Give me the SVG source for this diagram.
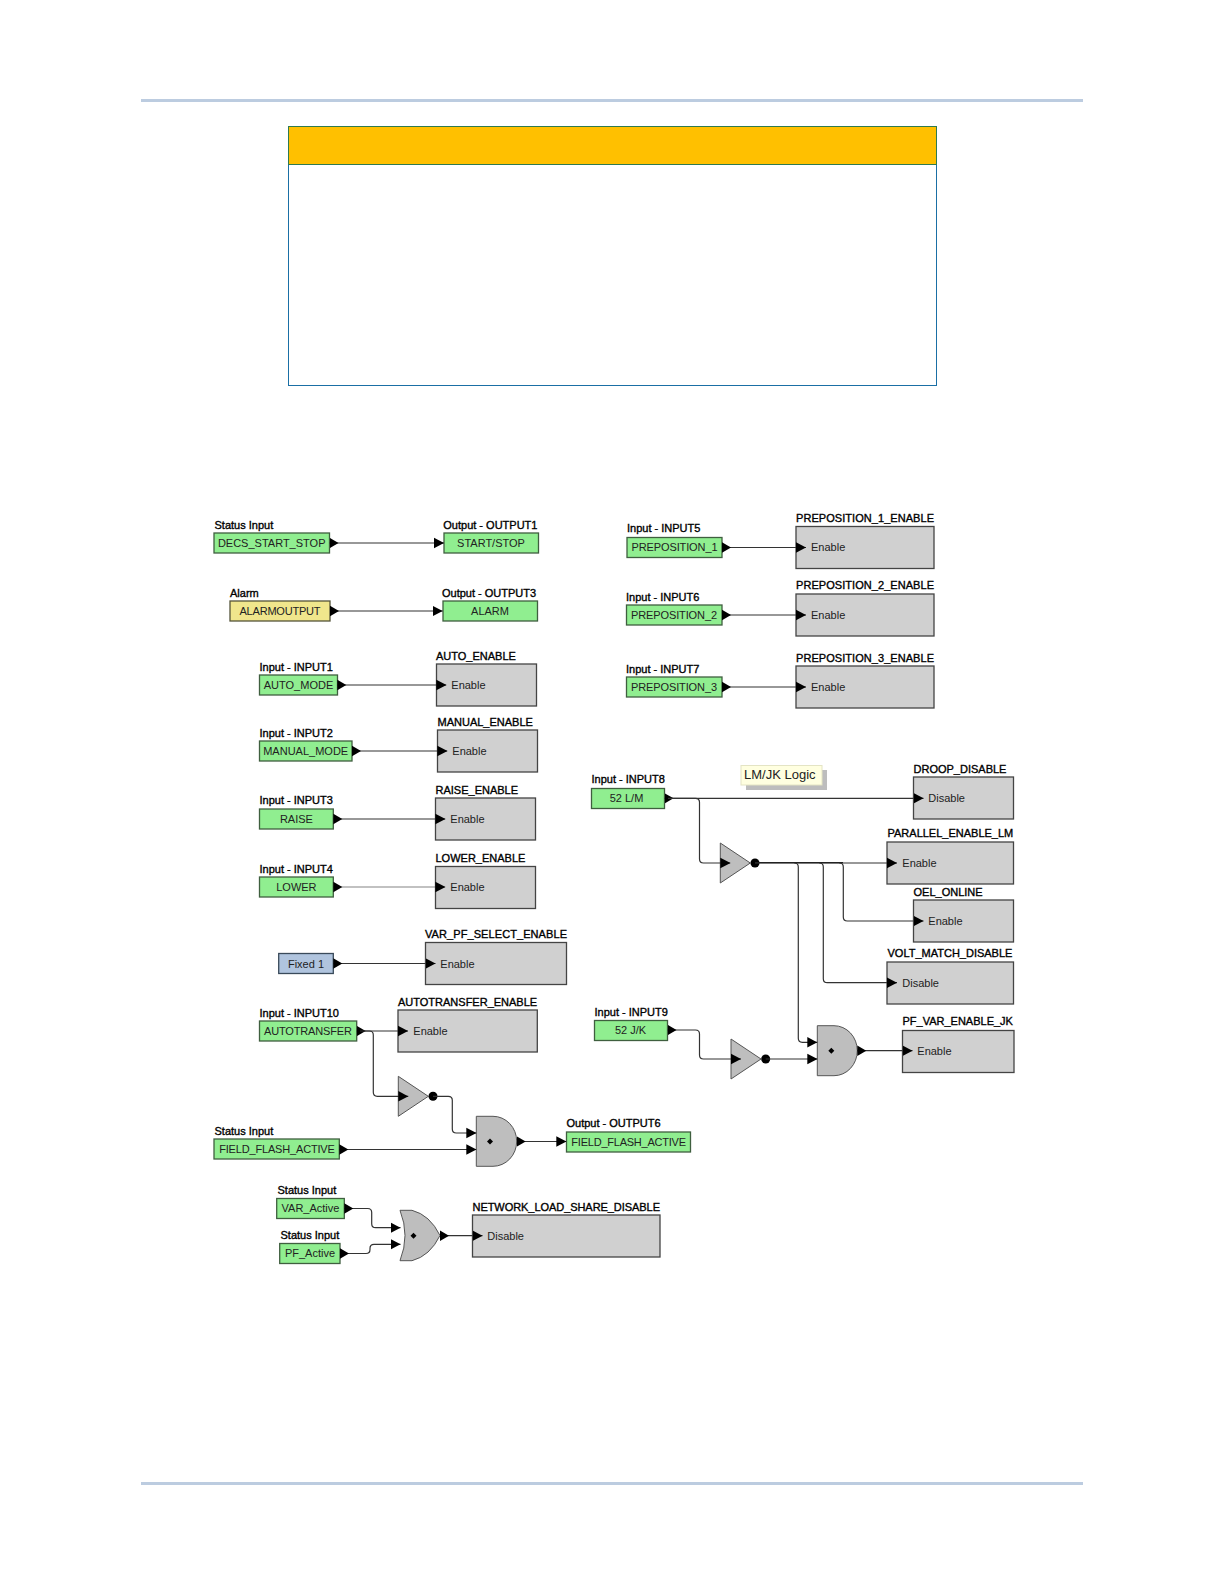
<svg xmlns="http://www.w3.org/2000/svg" width="1224" height="1584" viewBox="0 0 1224 1584">
<defs>
<style>
text{font-family:"Liberation Sans",Arial,sans-serif;font-size:11px;fill:#222}
.l{fill:#000;stroke:#000;stroke-width:.35px}
.m{text-anchor:middle}
.g{fill:#90EE90;stroke:#3F5F3F;stroke-width:1.3}
.y{fill:#F0E68C;stroke:#55553A;stroke-width:1.3}
.b{fill:#B0C4DE;stroke:#3A4A5A;stroke-width:1.3}
.x{fill:#D0D0D0;stroke:#444;stroke-width:1.3}
.t{fill:#BEBEBE;stroke:#555;stroke-width:1}
.w{fill:none;stroke:#333;stroke-width:1.2;marker-start:url(#s);marker-end:url(#e)}
.n{fill:none;stroke:#333;stroke-width:1.2;marker-end:url(#e)}
.p{fill:none;stroke:#222;stroke-width:1.2}
</style>
<marker id="e" markerUnits="userSpaceOnUse" markerWidth="10" markerHeight="12" refX="10" refY="6" orient="auto"><path d="M0,0.8L10,6L0,11.2Z" fill="#000"/></marker>
<marker id="s" markerUnits="userSpaceOnUse" markerWidth="10" markerHeight="12" refX="0" refY="6" orient="auto"><path d="M0,0.8L9,6L0,11.2Z" fill="#000"/></marker>
</defs>
<rect id="rule-top" x="141" y="99" width="942" height="3" fill="#BCCCE0"/>
<rect id="rule-bottom" x="141" y="1482" width="942" height="3" fill="#BCCCE0"/>
<g id="panel">
<rect x="288.5" y="126.5" width="648" height="259" fill="#fff" stroke="#1A6FA5" stroke-width="1"/>
<rect x="288.5" y="126.5" width="648" height="38" fill="#FFC000" stroke="#2F7A50" stroke-width="1"/>
</g>
<g id="n-decs"><text class="l" x="214.5" y="529">Status Input</text><rect class="g" x="214" y="533" width="115.5" height="20"/><text class="m" x="271.7" y="547">DECS_START_STOP</text></g>
<g id="n-output1"><text class="l" x="443.3" y="529">Output - OUTPUT1</text><rect class="g" x="444" y="533" width="94.5" height="20"/><text class="m" x="491" y="547">START/STOP</text></g>
<g id="n-alarm"><text class="l" x="230" y="597">Alarm</text><rect class="y" x="230" y="601" width="100" height="20"/><text class="m" x="280" y="615" textLength="81">ALARMOUTPUT</text></g>
<g id="n-output3"><text class="l" x="442" y="597">Output - OUTPUT3</text><rect class="g" x="443" y="601" width="94.5" height="20"/><text class="m" x="490" y="615">ALARM</text></g>
<g id="n-input1"><text class="l" x="259.5" y="670.7">Input - INPUT1</text><rect class="g" x="259.5" y="675" width="78" height="20"/><text class="m" x="298.5" y="689">AUTO_MODE</text></g>
<g id="n-auto-enable"><text class="l" x="436" y="660">AUTO_ENABLE</text><rect class="x" x="436.5" y="664" width="100" height="42"/><text x="451.3" y="689">Enable</text></g>
<g id="n-input2"><text class="l" x="259.5" y="736.7">Input - INPUT2</text><rect class="g" x="259.5" y="741" width="92.5" height="20"/><text class="m" x="305.7" y="755">MANUAL_MODE</text></g>
<g id="n-manual-enable"><text class="l" x="437.5" y="726">MANUAL_ENABLE</text><rect class="x" x="437.5" y="730" width="100" height="42"/><text x="452.3" y="755">Enable</text></g>
<g id="n-input3"><text class="l" x="259.5" y="804">Input - INPUT3</text><rect class="g" x="259.5" y="809" width="73.8" height="20"/><text class="m" x="296.4" y="823">RAISE</text></g>
<g id="n-raise-enable"><text class="l" x="435.5" y="793.5">RAISE_ENABLE</text><rect class="x" x="435.5" y="798" width="100" height="42"/><text x="450.3" y="823">Enable</text></g>
<g id="n-input4"><text class="l" x="259.5" y="872.6">Input - INPUT4</text><rect class="g" x="259.5" y="877" width="73.8" height="20"/><text class="m" x="296.4" y="891">LOWER</text></g>
<g id="n-lower-enable"><text class="l" x="435.5" y="862">LOWER_ENABLE</text><rect class="x" x="435.5" y="866.5" width="100" height="42"/><text x="450.3" y="891">Enable</text></g>
<g id="n-fixed"><rect class="b" x="278.7" y="953.5" width="54.6" height="20"/><text class="m" x="306" y="967.5">Fixed 1</text></g>
<g id="n-var-pf"><text class="l" x="425" y="938" textLength="142">VAR_PF_SELECT_ENABLE</text><rect class="x" x="425.5" y="942.5" width="141" height="42"/><text x="440.3" y="967.5">Enable</text></g>
<g id="n-input10"><text class="l" x="259.5" y="1017">Input - INPUT10</text><rect class="g" x="259.5" y="1021" width="97.2" height="20"/><text class="m" x="308" y="1035" textLength="88">AUTOTRANSFER</text></g>
<g id="n-autotransfer-enable"><text class="l" x="398" y="1006">AUTOTRANSFER_ENABLE</text><rect class="x" x="398" y="1010" width="139.3" height="42"/><text x="413.3" y="1035">Enable</text></g>
<g id="n-not1"><path class="t" d="M398.3,1076.3V1116.3L428.3,1096.3Z"/><circle cx="433" cy="1096.3" r="4.5" fill="#000"/></g>
<g id="n-and1"><path class="t" d="M476.3,1116.3H493A23.7,25 0 0 1 493,1166.3H476.3Z"/><path d="M490,1138.5l3,3l-3,3l-3,-3Z" fill="#000"/></g>
<g id="n-ff-input"><text class="l" x="214.5" y="1135">Status Input</text><rect class="g" x="214" y="1139" width="125.3" height="20"/><text class="m" x="277" y="1152.7" textLength="115.7">FIELD_FLASH_ACTIVE</text></g>
<g id="n-output6"><text class="l" x="566.5" y="1127">Output - OUTPUT6</text><rect class="g" x="566.5" y="1132" width="124" height="20"/><text class="m" x="628.7" y="1145.5" textLength="114.7">FIELD_FLASH_ACTIVE</text></g>
<g id="n-var-active"><text class="l" x="277.5" y="1194">Status Input</text><rect class="g" x="276.7" y="1198.5" width="67.6" height="20"/><text class="m" x="310.5" y="1211.8">VAR_Active</text></g>
<g id="n-pf-active"><text class="l" x="280.5" y="1239">Status Input</text><rect class="g" x="279.7" y="1243.5" width="60.3" height="20"/><text class="m" x="310" y="1256.8">PF_Active</text></g>
<g id="n-or"><path class="t" d="M400,1210.3H412Q430,1215 440,1235.5Q430,1256 412,1260.7H400Q410,1235.5 400,1210.3Z"/><path d="M413.5,1232.7l3,3l-3,3l-3,-3Z" fill="#000"/></g>
<g id="n-nlsd"><text class="l" x="472.5" y="1211" textLength="187.5">NETWORK_LOAD_SHARE_DISABLE</text><rect class="x" x="472.5" y="1215" width="187.5" height="42"/><text x="487.3" y="1240">Disable</text></g>
<g id="n-input5"><text class="l" x="627" y="532">Input - INPUT5</text><rect class="g" x="627" y="537.5" width="95" height="20"/><text class="m" x="674.5" y="550.8" textLength="86">PREPOSITION_1</text></g>
<g id="n-p1-enable"><text class="l" x="796" y="522" textLength="138">PREPOSITION_1_ENABLE</text><rect class="x" x="796" y="526.5" width="138" height="42"/><text x="811" y="550.8">Enable</text></g>
<g id="n-input6"><text class="l" x="626" y="601">Input - INPUT6</text><rect class="g" x="626.5" y="605" width="95.5" height="20"/><text class="m" x="674" y="619" textLength="86">PREPOSITION_2</text></g>
<g id="n-p2-enable"><text class="l" x="796" y="589" textLength="138">PREPOSITION_2_ENABLE</text><rect class="x" x="796" y="594" width="138" height="42"/><text x="811" y="619">Enable</text></g>
<g id="n-input7"><text class="l" x="626" y="672.6">Input - INPUT7</text><rect class="g" x="626.5" y="677" width="95.5" height="20"/><text class="m" x="674" y="691" textLength="86">PREPOSITION_3</text></g>
<g id="n-p3-enable"><text class="l" x="796" y="661.5" textLength="138">PREPOSITION_3_ENABLE</text><rect class="x" x="796" y="666" width="138" height="42"/><text x="811" y="691">Enable</text></g>
<g id="n-input8"><text class="l" x="591.5" y="783">Input - INPUT8</text><rect class="g" x="591.5" y="788.5" width="73" height="20"/><text class="m" x="626.5" y="802">52 L/M</text></g>
<g id="n-note"><rect x="746" y="770" width="81" height="20" fill="#BDBDBD"/><rect x="741" y="765.5" width="81" height="19.5" fill="#FFFFE0" stroke="#E4E4C4"/><text x="744" y="778.7" style="font-size:13px">LM/JK Logic</text></g>
<g id="n-droop"><text class="l" x="913.5" y="772.5">DROOP_DISABLE</text><rect class="x" x="913.5" y="777" width="100" height="42"/><text x="928.3" y="802">Disable</text></g>
<g id="n-not2"><path class="t" d="M720.3,843V883L750.3,863Z"/><circle cx="755" cy="863" r="4.5" fill="#000"/></g>
<g id="n-parallel"><text class="l" x="887.5" y="836.7">PARALLEL_ENABLE_LM</text><rect class="x" x="887" y="842" width="126.5" height="42"/><text x="902.3" y="867">Enable</text></g>
<g id="n-oel"><text class="l" x="913.5" y="895.7">OEL_ONLINE</text><rect class="x" x="913.5" y="900" width="100" height="42"/><text x="928.3" y="925">Enable</text></g>
<g id="n-volt"><text class="l" x="887.5" y="957.3">VOLT_MATCH_DISABLE</text><rect class="x" x="887" y="962" width="126.5" height="42"/><text x="902.3" y="987">Disable</text></g>
<g id="n-input9"><text class="l" x="594.5" y="1016">Input - INPUT9</text><rect class="g" x="594.5" y="1020.5" width="73" height="20"/><text class="m" x="630.5" y="1034">52 J/K</text></g>
<g id="n-not3"><path class="t" d="M731,1039V1079L761,1059Z"/><circle cx="765.7" cy="1059" r="4.5" fill="#000"/></g>
<g id="n-and2"><path class="t" d="M817.3,1025.7H834A23.3,25 0 0 1 834,1075.7H817.3Z"/><path d="M831.3,1047.7l3,3l-3,3l-3,-3Z" fill="#000"/></g>
<g id="n-pf-var"><text class="l" x="902.5" y="1025.3">PF_VAR_ENABLE_JK</text><rect class="x" x="902.5" y="1030.5" width="111.5" height="42"/><text x="917.3" y="1055">Enable</text></g>
<g id="connectors">
<path class="w" d="M329.5,543H444"/>
<path class="w" d="M330,611H442.7"/>
<path class="w" d="M337.3,685H446.3"/>
<path class="w" d="M352,751H447.3"/>
<path class="w" d="M333.3,819H445.3"/>
<path class="w" d="M333.3,887H445.3" stroke-opacity=".6"/>
<path class="w" d="M333.3,963.5H435.5"/>
<path class="w" d="M356.7,1031H408"/>
<path class="n" d="M360,1031H369.3Q373.3,1031 373.3,1035V1092.3Q373.3,1096.3 377.3,1096.3H408.3"/>
<path class="n" d="M433,1096.3H448.3Q452.3,1096.3 452.3,1100.3V1129Q452.3,1133 456.3,1133H476.3"/>
<path class="w" d="M339.3,1149.5H476.3"/>
<path class="w" d="M516.7,1141.5H566.3"/>
<path class="w" d="M344.3,1208.5H367.7Q371.7,1208.5 371.7,1212.5V1223.7Q371.7,1227.7 375.7,1227.7H400.5"/>
<path class="w" d="M340,1253.5H366Q370,1253.5 370,1249.5V1248.3Q370,1244.3 374,1244.3H400.5"/>
<path class="w" d="M440,1235.7H482.5"/>
<path class="w" d="M722,547.5H806"/>
<path class="w" d="M722,615H806"/>
<path class="w" d="M722,687H806"/>
<path class="w" d="M664.5,798.3H923.5"/>
<path class="n" d="M668,798.3H695.5Q699.5,798.3 699.5,802.3V859Q699.5,863 703.5,863H730.3"/>
<path class="n" d="M755,863H897"/>
<path class="n" d="M839.3,863Q843.3,863 843.3,867V917Q843.3,921 847.3,921H923.5"/>
<path class="n" d="M819.3,863Q823.3,863 823.3,867V978.7Q823.3,982.7 827.3,982.7H897"/>
<path class="n" d="M794.3,863Q798.3,863 798.3,867V1038.3Q798.3,1042.3 802.3,1042.3H817.3"/>
<path class="w" d="M667.5,1030H695.5Q699.5,1030 699.5,1034V1055Q699.5,1059 703.5,1059H741"/>
<path class="n" d="M765.7,1059H817.3"/>
<path class="w" d="M857.3,1050.7H912.5"/>
<path class="p" d="M755,862.6H843" stroke-width="1.6"/>
</g>
</svg>
